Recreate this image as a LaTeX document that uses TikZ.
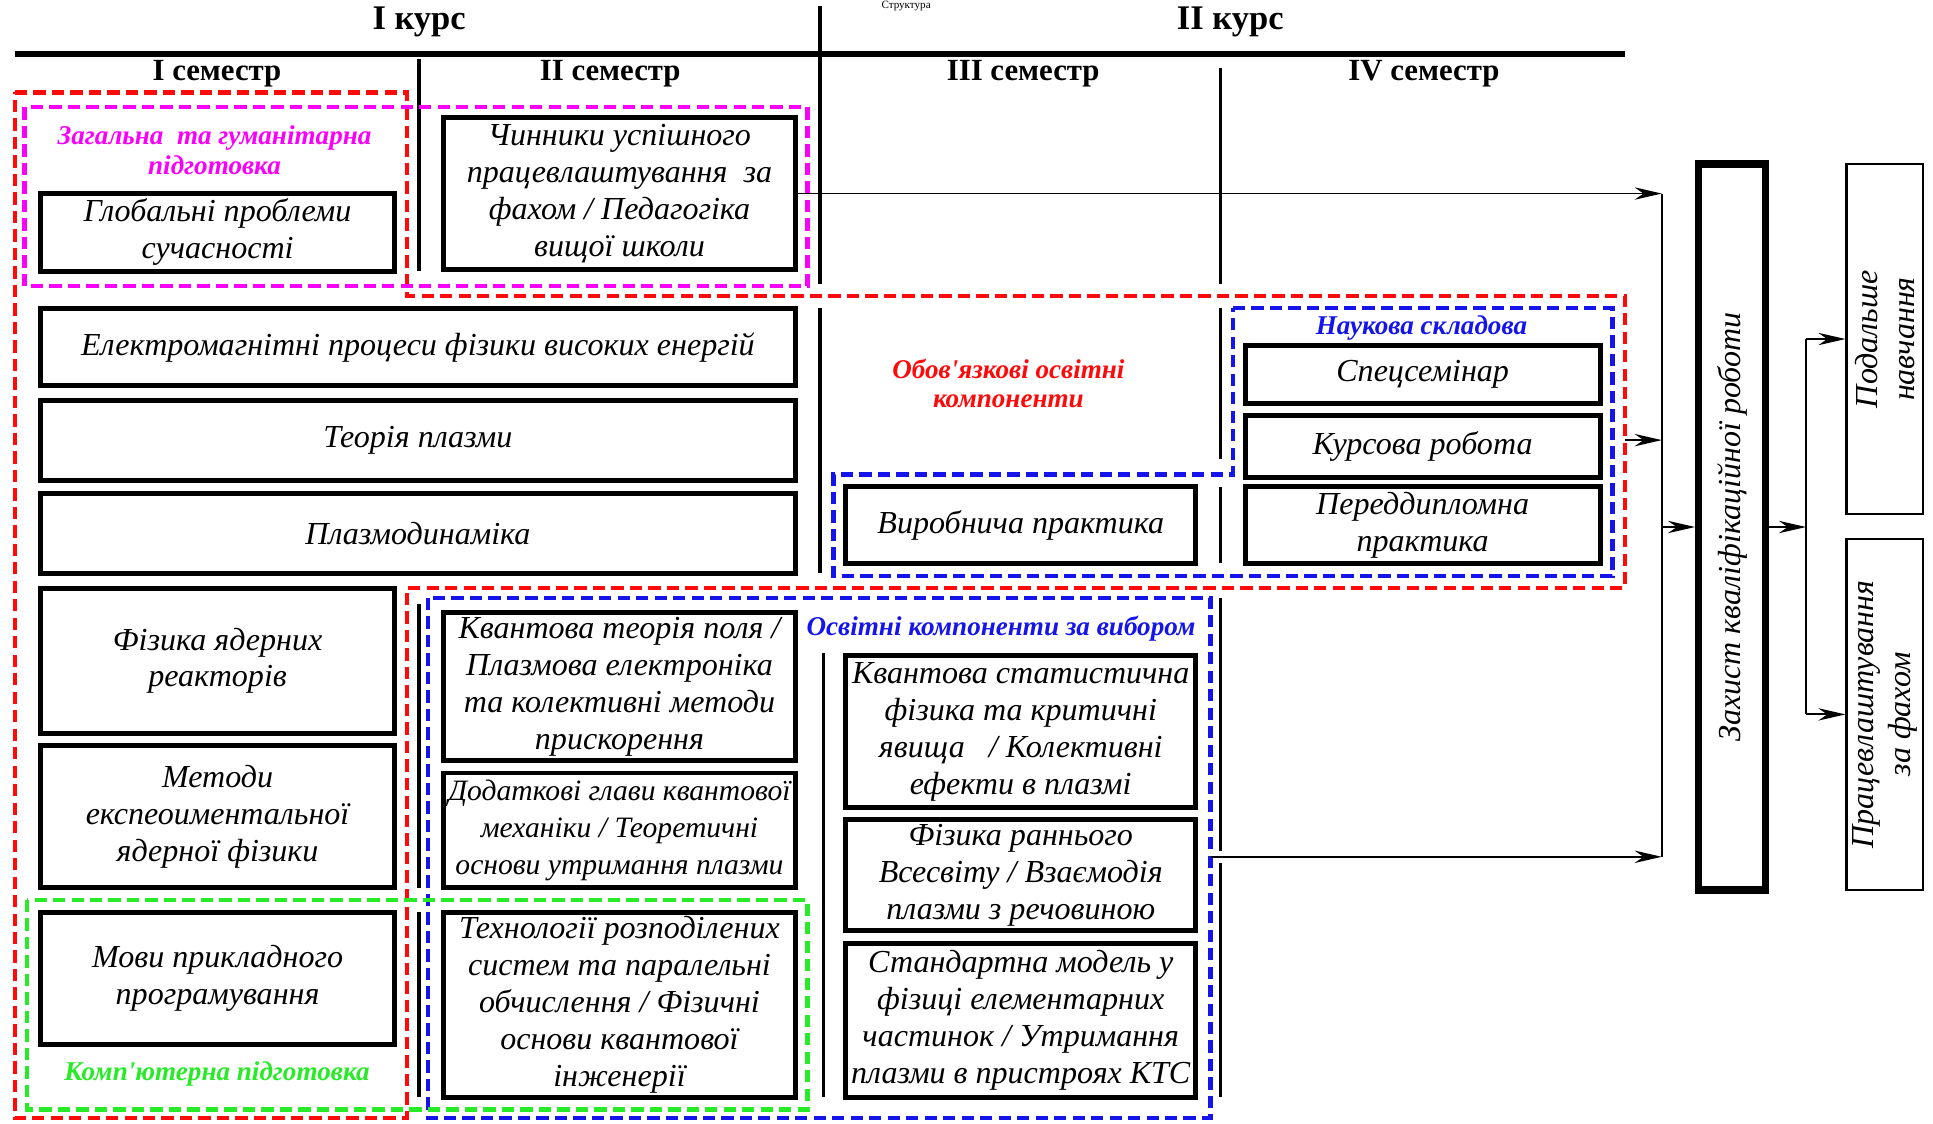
\documentclass[tikz,border=0pt]{standalone}
\usepackage{fontspec}
\setmainfont{Liberation Serif}
\usetikzlibrary{arrows.meta}
\definecolor{redline}{RGB}{255,10,10}
\definecolor{magline}{RGB}{250,0,250}
\definecolor{blueline}{RGB}{20,20,235}
\definecolor{greenline}{RGB}{40,235,40}

\begin{document}
\begin{tikzpicture}[x=1pt, y=-1pt,
    box/.style={draw, line width=4pt, align=center, inner sep=1pt,
      font=\fontsize{26}{30}\selectfont\itshape},
    side/.style={draw, align=center, inner sep=1pt, rotate=90,
      font=\fontsize{26}{30}\selectfont\itshape},
    head/.style={font=\fontsize{25}{28}\selectfont\bfseries},
    tag/.style={align=center, font=\fontsize{22}{24}\selectfont\bfseries\itshape},
    zone/.style={line width=3.5pt, dash pattern=on 10pt off 5pt},
    sep/.style={line width=3pt},
    arr/.style={line width=1.5pt, -{Stealth[length=22pt, width=10pt]}}]
	\useasboundingbox (0,0) rectangle (1568,911);

	% header
	\node[font=\fontsize{9}{10}\selectfont, anchor=north, inner sep=0pt] (title) at (735,0.5) {Структура};
	\node[head, font=\fontsize{28}{30}\selectfont\bfseries] (kurs1) at (340,18) {I курс};
	\node[head, font=\fontsize{28}{30}\selectfont\bfseries] (kurs2) at (998,18) {II курс};
	\node[head] (sem1) at (176,60) {I семестр};
	\node[head] (sem2) at (495,60) {II семестр};
	\node[head] (sem3) at (830,60) {III семестр};
	\node[head] (sem4) at (1155,60) {IV семестр};
	\draw[line width=5pt] (12,44) -- (1318,44);

	% semester separators
	\draw[sep] (665,5) -- (665,230);
	\draw[sep] (665,250) -- (665,465);
	\draw[sep] (668,530) -- (668,890);
	\draw[sep] (340,48) -- (340,220);
	\draw[sep] (340,490) -- (340,720);
	\draw[sep] (340,740) -- (340,890);
	\draw[sep] (990,55) -- (990,230);
	\draw[sep] (990,250) -- (990,372);
	\draw[sep] (990,395) -- (990,457);
	\draw[sep] (990,485) -- (990,690);
	\draw[sep] (990,700) -- (990,890);

	% groups
	\draw[zone, redline] (12,75) -- (330,75) -- (330,240) -- (1318,240) -- (1318,477)
		-- (330,477) -- (330,907) -- (12,907) -- cycle;
	\draw[zone, magline] (20,87) rectangle (655,232);
	\draw[zone, blueline] (347,485) rectangle (982,907);
	\draw[zone, blueline] (1000,250) -- (1308,250) -- (1308,467) -- (676,467)
		-- (676,385) -- (1000,385) -- cycle;
	\draw[zone, greenline] (22,730) rectangle (655,900);

	\node[tag, text=magline] (zagtag) at (174,122) {Загальна\ \ та гуманітарна\\підготовка};
	\node[tag, text=redline] (obovtag) at (818,311) {Обов\textquotesingle язкові освітні\\компоненти};
	\node[tag, text=blueline] (nauktag) at (1153,266) {Наукова складова};
	\node[tag, text=blueline] (osvtag) at (812,510) {Освітні компоненти за вибором};
	\node[tag, text=greenline] (komptag) at (176,871) {Комп\textquotesingle ютерна підготовка};

	% disciplines
	\node[box, minimum width=287, minimum height=63] (glob) at (176.5,188.5) {Глобальні проблеми\\сучасності};
	\node[box, minimum width=285, minimum height=123] (chyn) at (502.5,157) {Чинники успішного\\працевлаштування\ \ за\\фахом / Педагогіка\\вищої школи};
	\node[box, minimum width=612, minimum height=63] (elmag) at (339,281.5) {Електромагнітні процеси фізики високих енергій};
	\node[box, minimum width=612, minimum height=65] (teor) at (339,357.5) {Теорія плазми};
	\node[box, minimum width=612, minimum height=65] (plazm) at (339,432.5) {Плазмодинаміка};
	\node[box, minimum width=287, minimum height=118] (yadr) at (176.5,536) {Фізика ядерних\\реакторів};
	\node[box, minimum width=287, minimum height=115] (metod) at (176.5,662.5) {Методи\\експеоиментальної\\ядерної фізики};
	\node[box, minimum width=287, minimum height=107] (movy) at (176.5,793.5) {Мови прикладного\\програмування};
	\node[box, minimum width=285, minimum height=120] (kvpol) at (502.5,557) {Квантова теорія поля /\\Плазмова електроніка\\та колективні методи\\прискорення};
	\node[box, minimum width=285, minimum height=93, font=\fontsize{24}{30}\selectfont\itshape] (dodat) at (502.5,673.5) {Додаткові глави квантової\\механіки / Теоретичні\\основи утримання плазми};
	\node[box, minimum width=285, minimum height=150] (tekhn) at (502.5,815) {Технології розподілених\\систем та паралельні\\обчислення / Фізичні\\основи квантової\\інженерії};
	\node[box, minimum width=284, minimum height=62] (vyrob) at (828,426) {Виробнича практика};
	\node[box, minimum width=288, minimum height=47] (spets) at (1154,303.5) {Спецсемінар};
	\node[box, minimum width=288, minimum height=50] (kursr) at (1154,362) {Курсова робота};
	\node[box, minimum width=288, minimum height=62] (peredd) at (1154,426) {Переддипломна\\практика};
	\node[box, minimum width=284, minimum height=123] (kvstat) at (828,593.5) {Квантова статистична\\фізика та критичні\\явища\ \ \ / Колективні\\ефекти в плазмі};
	\node[box, minimum width=284, minimum height=90] (rann) at (828,710) {Фізика раннього\\Всесвіту / Взаємодія\\плазми з речовиною};
	\node[box, minimum width=284, minimum height=125] (standm) at (828,827.5) {Стандартна модель у\\фізиці елементарних\\частинок / Утримання\\плазми в пристроях КТС};

	% final stage
	\node[side, line width=6pt, minimum width=589, minimum height=54] (zakh) at (1405,427.5) {Захист кваліфікаційної роботи};
	\node[side, line width=2pt, minimum width=284, minimum height=62] (podal) at (1529,275) {Подальше\\навчання};
	\node[side, line width=2pt, minimum width=285, minimum height=62] (prats) at (1529,579.5) {Працевлаштування\\за фахом};

	\coordinate (jtop) at (1348,157);
	\coordinate (jmid) at (1348,427.5);
	\coordinate (jbot) at (1348,695);
	\coordinate (redR) at (1318,357);
	\coordinate (blueR) at (982,695);
	\coordinate (fork) at (1465,427.5);

	\draw[arr] (chyn.east) -- (jtop);
	\draw[arr] (redR) -- (redR -| jtop);
	\draw[arr] (blueR) -- (jbot);
	\draw[line width=1.5pt] (jtop) -- (jbot);
	\draw[arr] (jmid) -- (zakh);
	\draw[arr] (zakh) -- (fork);
	\draw[line width=1.5pt] (fork |- podal) -- (fork |- prats);
	\draw[arr] (fork |- podal) -- (podal);
	\draw[arr] (fork |- prats) -- (prats);
\end{tikzpicture}
\end{document}
